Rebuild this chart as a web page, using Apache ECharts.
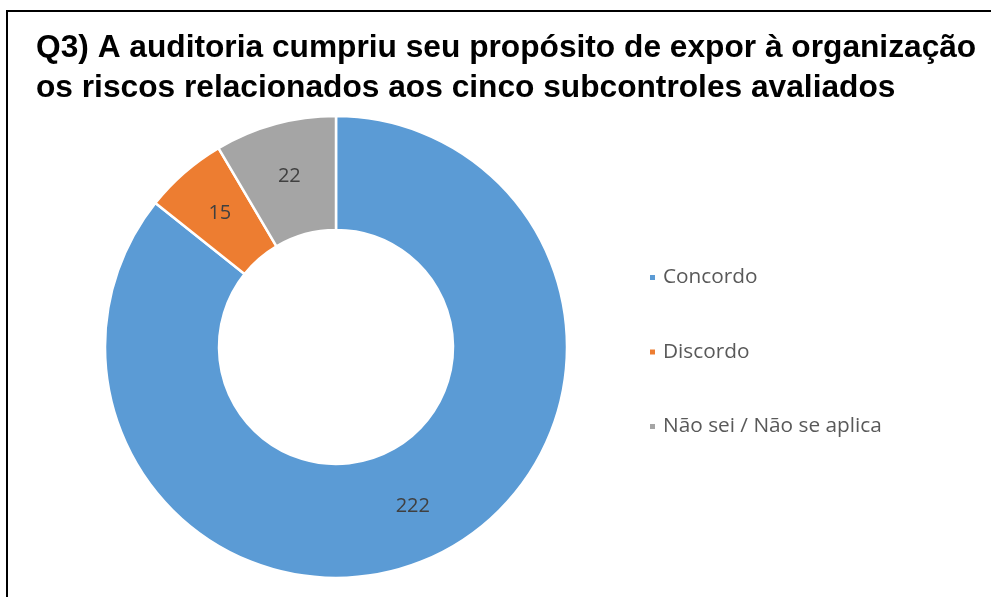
<!DOCTYPE html>
<html>
<head>
<meta charset="utf-8">
<script src="https://cdn.jsdelivr.net/npm/echarts@6/dist/echarts.min.js"></script>
<style>
  html, body { margin: 0; padding: 0; background: #fff; }
  #chart { width: 991px; height: 597px; }
</style>
</head>
<body>
<div id="chart"></div>
<script>
const titleLines = [
  'Q3) A auditoria cumpriu seu propósito de expor à organização',
  'os riscos relacionados aos cinco subcontroles avaliados'
];
const categories = ['Concordo', 'Discordo', 'Não sei / Não se aplica'];
const values = [222, 15, 22];
const colors = ['#5B9BD5', '#ED7D31', '#A5A5A5'];

const chart = echarts.init(document.getElementById('chart'), null, { renderer: 'canvas' });
chart.setOption({
  backgroundColor: '#fff',
  animation: false,
  color: colors,
  title: {
    text: titleLines.join('\n'),
    left: 31,
    top: 23,
    textStyle: {
      fontFamily: '"Liberation Sans", Arial, sans-serif',
      fontWeight: 'bold',
      fontSize: 31.7,
      lineHeight: 40,
      color: '#000'
    }
  },
  graphic: [{
    type: 'rect',
    silent: true,
    shape: { x: 7, y: 11, width: 1100, height: 800 },
    style: { fill: 'none', stroke: '#000', lineWidth: 2 }
  }],
  legend: {
    orient: 'vertical',
    left: 643,
    top: 262,
    itemWidth: 7,
    itemHeight: 7,
    itemGap: 53.5,
    icon: 'rect',
    textStyle: {
      fontFamily: '"Open Sans", sans-serif',
      fontSize: 20.8,
      color: '#595959',
      padding: [0, 0, 0, 2]
    },
    data: categories
  },
  series: [{
    type: 'pie',
    center: [336, 347],
    radius: [117, 231],
    startAngle: 90,
    clockwise: true,
    avoidLabelOverlap: false,
    itemStyle: { borderColor: '#fff', borderWidth: 2.5 },
    label: {
      show: true,
      position: 'inside',
      formatter: '{c}',
      fontFamily: '"Open Sans", sans-serif',
      fontSize: 20,
      color: '#404040'
    },
    labelLine: { show: false },
    emphasis: { disabled: true },
    data: categories.map((name, i) => ({ name: name, value: values[i] }))
  }]
});
</script>
</body>
</html>
